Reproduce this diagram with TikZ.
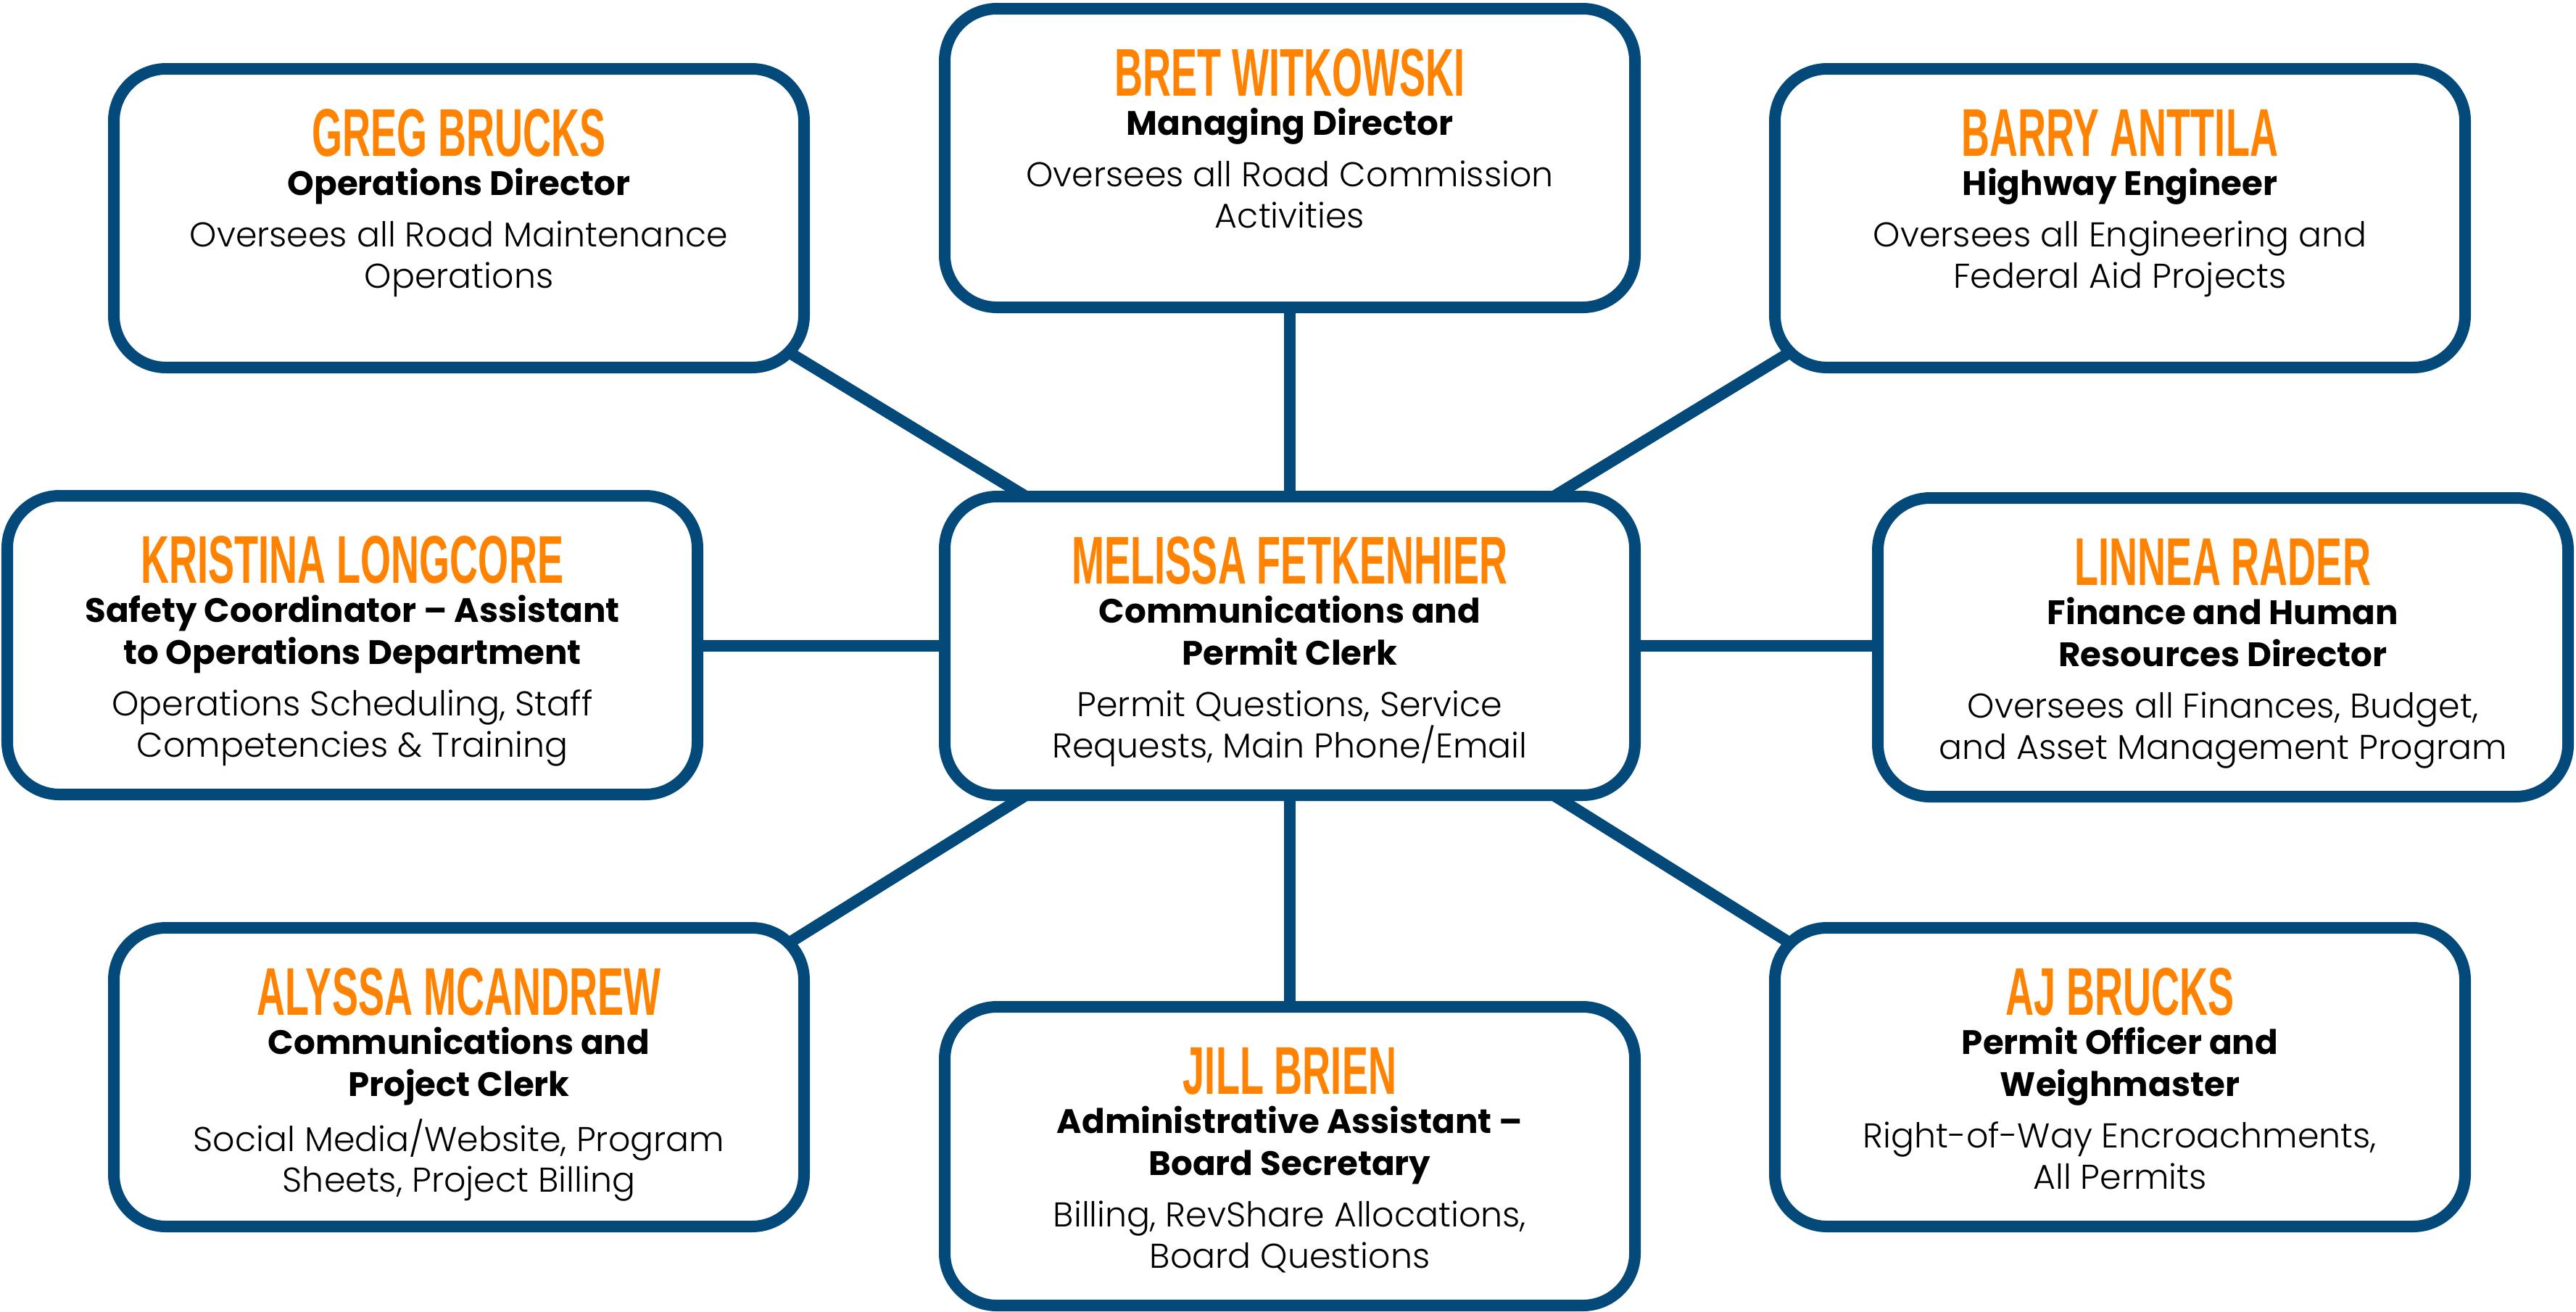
\documentclass[tikz,border=0pt]{standalone}
\usepackage{fontspec}
\usepackage{tikz}
\usetikzlibrary{backgrounds,calc,positioning}
\newfontfamily\namefont[FakeStretch=0.58]{Liberation Sans}
\newfontfamily\titlefont{Poppins}
\newfontfamily\descfont{Poppins Light}
\definecolor{roadblue}{RGB}{3,73,122}
\definecolor{roadorange}{RGB}{255,130,0}
\newcommand{\person}[3]{%
  \begin{minipage}[t]{9.2cm}\centering
    {\namefont\bfseries\fontsize{26.5pt}{26.5pt}\selectfont\textcolor{roadorange}{#1}\par}%
    \vspace{-0.9pt}%
    {\titlefont\bfseries\fontsize{13.3pt}{16.5pt}\selectfont #2\par}%
    \vspace{4.2pt}%
    {\descfont\fontsize{13.5pt}{16pt}\selectfont #3\par}%
  \end{minipage}}

\begin{document}
\begin{tikzpicture}[
  card/.style={draw=roadblue, line width=0.16cm, rounded corners=0.72cm, fill=white,
    minimum width=9.52cm, minimum height=4.12cm, inner sep=0pt, outer sep=0pt},
  cardtext/.style={anchor=base, inner sep=0pt},
  link/.style={draw=roadblue, line width=0.16cm}]
\useasboundingbox (0,0) rectangle (35.53,-18.09);

\node[card] (greg) at (6.33,-3.01) {};
\node[card] (bret) at (17.79,-2.18) {};
\node[card] (barry) at (29.24,-3.01) {};
\node[card] (kristina) at (4.86,-8.90) {};
\node[card] (melissa) at (17.79,-8.91) {};
\node[card] (linnea) at (30.66,-8.93) {};
\node[card] (alyssa) at (6.33,-14.86) {};
\node[card] (jill) at (17.79,-15.95) {};
\node[card] (aj) at (29.24,-14.86) {};

\node[cardtext] (greg-txt) at ($(greg.north)+(0,-1.2)$) {\person{GREG BRUCKS}{Operations Director}{Oversees all Road Maintenance\\Operations}};
\node[cardtext] (bret-txt) at ($(bret.north)+(0,-1.2)$) {\person{BRET WITKOWSKI}{Managing Director}{Oversees all Road Commission\\Activities}};
\node[cardtext] (barry-txt) at ($(barry.north)+(0,-1.2)$) {\person{BARRY ANTTILA}{Highway Engineer}{Oversees all Engineering and\\Federal Aid Projects}};
\node[cardtext] (kristina-txt) at ($(kristina.north)+(0,-1.2)$) {\person{KRISTINA LONGCORE}{Safety Coordinator – Assistant\\to Operations Department}{Operations Scheduling, Staff\\Competencies \& Training}};
\node[cardtext] (melissa-txt) at ($(melissa.north)+(0,-1.2)$) {\person{MELISSA FETKENHIER}{Communications and\\Permit Clerk}{Permit Questions, Service\\Requests, Main Phone/Email}};
\node[cardtext] (linnea-txt) at ($(linnea.north)+(0,-1.2)$) {\person{LINNEA RADER}{Finance and Human\\Resources Director}{Oversees all Finances, Budget,\\and Asset Management Program}};
\node[cardtext] (alyssa-txt) at ($(alyssa.north)+(0,-1.2)$) {\person{ALYSSA MCANDREW}{Communications and\\Project Clerk}{Social Media/Website, Program\\Sheets, Project Billing}};
\node[cardtext] (jill-txt) at ($(jill.north)+(0,-1.2)$) {\person{JILL BRIEN}{Administrative Assistant –\\Board Secretary}{Billing, RevShare Allocations,\\Board Questions}};
\node[cardtext] (aj-txt) at ($(aj.north)+(0,-1.2)$) {\person{AJ BRUCKS}{Permit Officer and\\Weighmaster}{Right-of-Way Encroachments,\\All Permits}};

\begin{scope}[on background layer]
\draw[link] (melissa.north) -- (bret.south);
\draw[link] (melissa.south) -- (jill.north);
\draw[link] (melissa.west) -- (melissa.west -| kristina.east);
\draw[link] (melissa.east) -- (melissa.east -| linnea.west);
\draw[link] ($(melissa.north)+(-3.64,0)$) -- ($(greg.south east)+(-0.21,0.21)$);
\draw[link] ($(melissa.north)+(3.64,0)$) -- ($(barry.south west)+(0.21,0.21)$);
\draw[link] ($(melissa.south)+(-3.64,0)$) -- ($(alyssa.north east)+(-0.21,-0.21)$);
\draw[link] ($(melissa.south)+(3.64,0)$) -- ($(aj.north west)+(0.21,-0.21)$);
\end{scope}
\end{tikzpicture}
\end{document}
